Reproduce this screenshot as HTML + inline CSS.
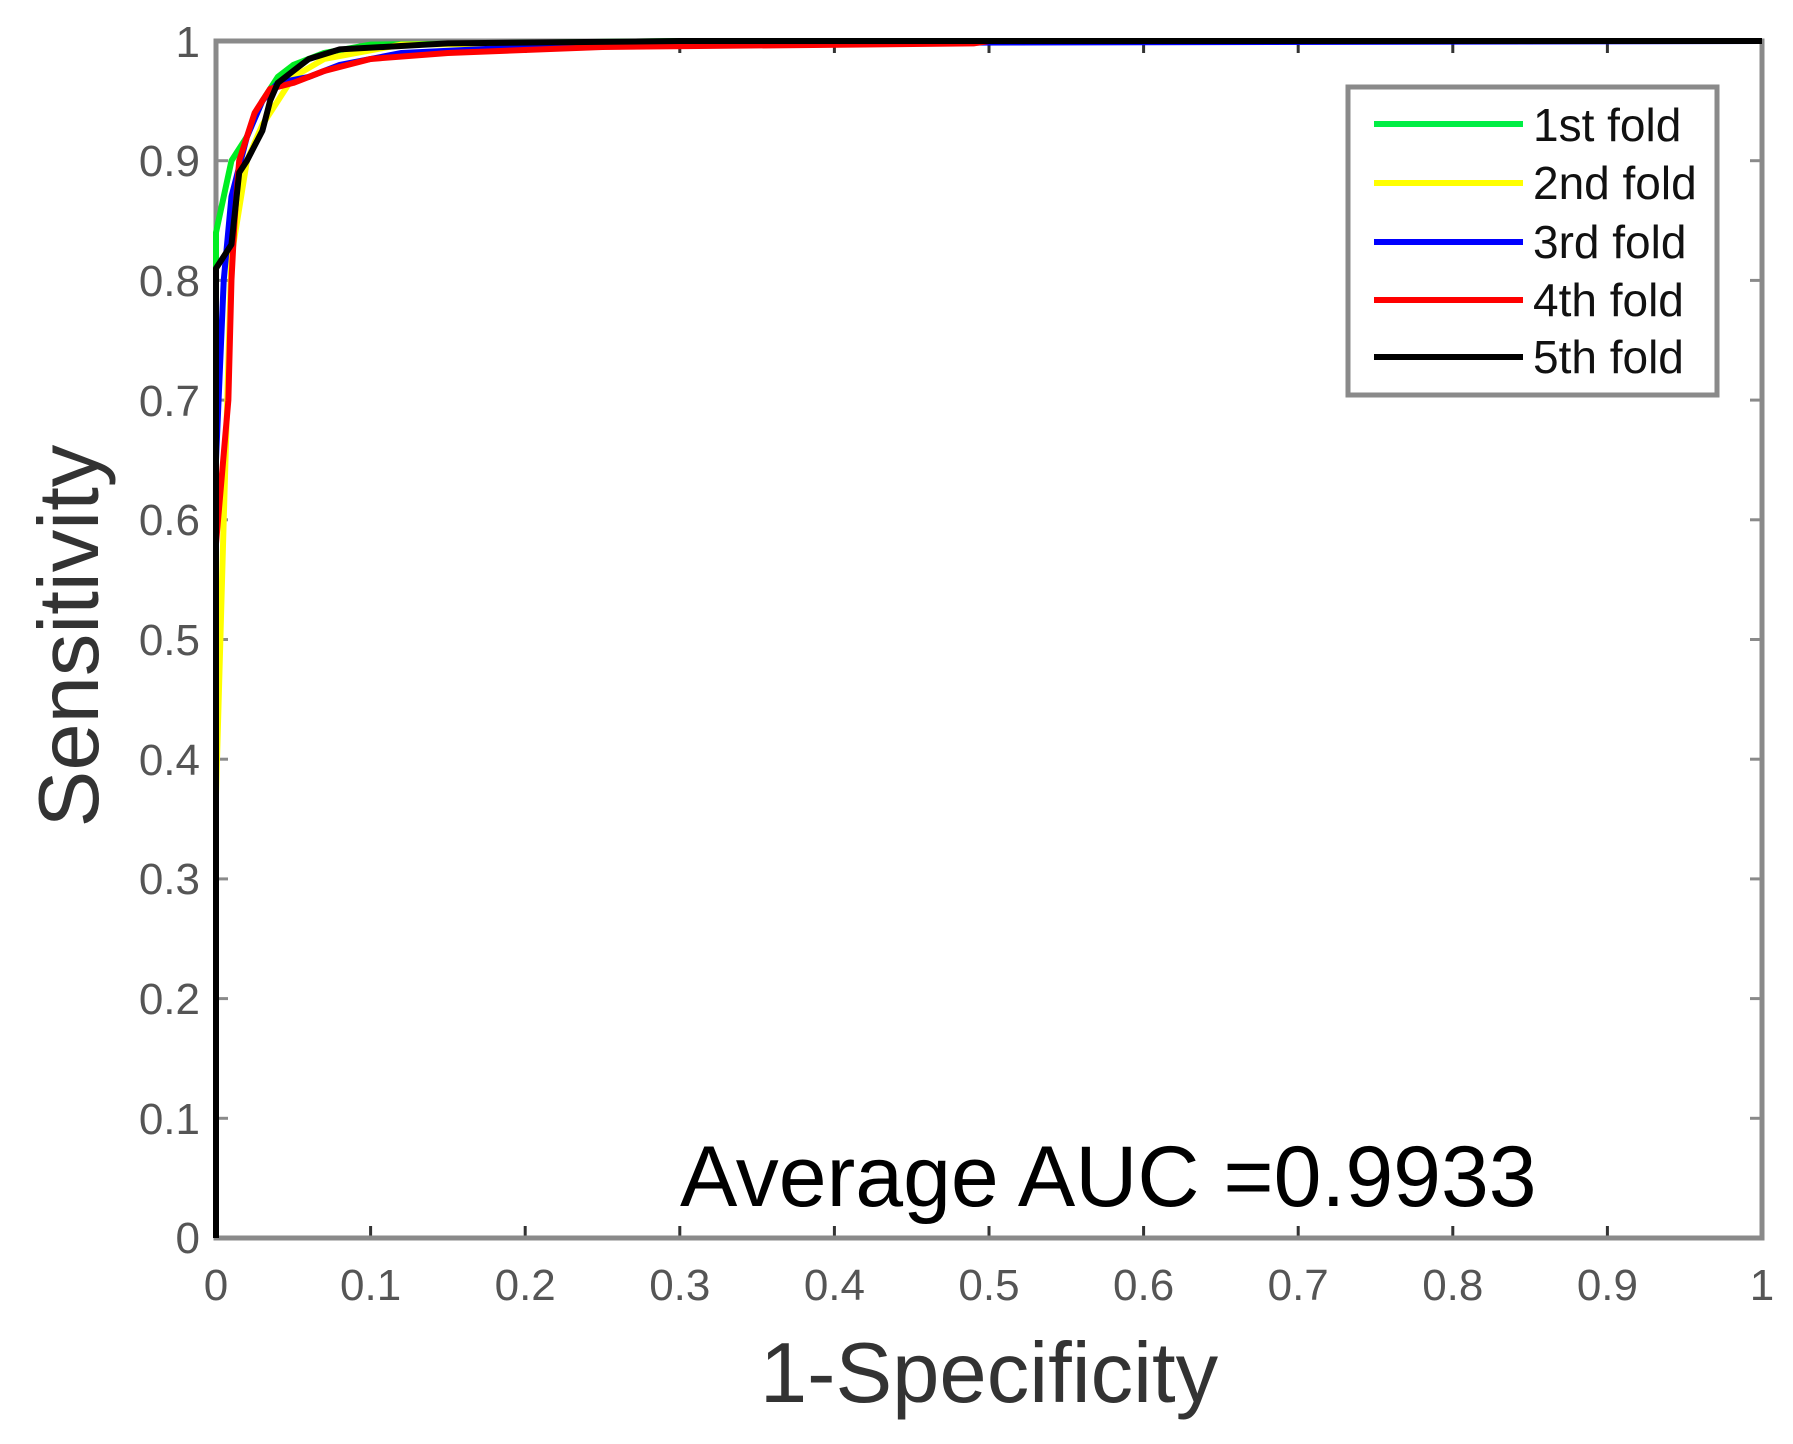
<!DOCTYPE html>
<html><head><meta charset="utf-8"><style>
html,body{margin:0;padding:0;background:#fff;}
svg{display:block;}
text{font-family:"Liberation Sans",Arial,sans-serif;}
</style></head><body>
<svg width="1793" height="1444" viewBox="0 0 1793 1444" xmlns="http://www.w3.org/2000/svg">
<rect width="1793" height="1444" fill="#fff"/>
<g stroke="#8a8a8a" stroke-width="3">
<line x1="216" y1="160.7" x2="228" y2="160.7"/><line x1="1762" y1="160.7" x2="1750" y2="160.7"/>
<line x1="216" y1="280.4" x2="228" y2="280.4"/><line x1="1762" y1="280.4" x2="1750" y2="280.4"/>
<line x1="216" y1="400.1" x2="228" y2="400.1"/><line x1="1762" y1="400.1" x2="1750" y2="400.1"/>
<line x1="216" y1="519.8" x2="228" y2="519.8"/><line x1="1762" y1="519.8" x2="1750" y2="519.8"/>
<line x1="216" y1="639.5" x2="228" y2="639.5"/><line x1="1762" y1="639.5" x2="1750" y2="639.5"/>
<line x1="216" y1="759.2" x2="228" y2="759.2"/><line x1="1762" y1="759.2" x2="1750" y2="759.2"/>
<line x1="216" y1="878.9" x2="228" y2="878.9"/><line x1="1762" y1="878.9" x2="1750" y2="878.9"/>
<line x1="216" y1="998.6" x2="228" y2="998.6"/><line x1="1762" y1="998.6" x2="1750" y2="998.6"/>
<line x1="216" y1="1118.3" x2="228" y2="1118.3"/><line x1="1762" y1="1118.3" x2="1750" y2="1118.3"/>
</g>
<g stroke="#333" stroke-width="3">
<line x1="370.6" y1="1238" x2="370.6" y2="1226"/><line x1="525.2" y1="1238" x2="525.2" y2="1226"/>
<line x1="679.8" y1="1238" x2="679.8" y2="1226"/><line x1="834.4" y1="1238" x2="834.4" y2="1226"/>
<line x1="989" y1="1238" x2="989" y2="1226"/><line x1="1143.6" y1="1238" x2="1143.6" y2="1226"/>
<line x1="1298.2" y1="1238" x2="1298.2" y2="1226"/><line x1="1452.8" y1="1238" x2="1452.8" y2="1226"/>
<line x1="1607.4" y1="1238" x2="1607.4" y2="1226"/>
<line x1="370.6" y1="41" x2="370.6" y2="53"/><line x1="525.2" y1="41" x2="525.2" y2="53"/>
<line x1="679.8" y1="41" x2="679.8" y2="53"/><line x1="834.4" y1="41" x2="834.4" y2="53"/>
<line x1="989" y1="41" x2="989" y2="53"/><line x1="1143.6" y1="41" x2="1143.6" y2="53"/>
<line x1="1298.2" y1="41" x2="1298.2" y2="53"/><line x1="1452.8" y1="41" x2="1452.8" y2="53"/>
<line x1="1607.4" y1="41" x2="1607.4" y2="53"/>
</g>
<rect x="216" y="41" width="1546" height="1197" fill="none" stroke="#8a8a8a" stroke-width="5"/>
<g transform="translate(216,1238) scale(1546,-1197)" fill="none" stroke-width="6" stroke-linejoin="round">
<polyline vector-effect="non-scaling-stroke" stroke="#00ee22" points="0,0 0,0.84 0.005,0.87 0.01,0.9 0.02,0.92 0.03,0.95 0.04,0.97 0.05,0.98 0.07,0.99 0.1,0.997 0.3,1 1,1"/>
<polyline vector-effect="non-scaling-stroke" stroke="#ffff00" points="0,0 0,0.37 0.005,0.6 0.01,0.82 0.015,0.86 0.02,0.9 0.03,0.93 0.04,0.95 0.05,0.97 0.07,0.985 0.12,0.997 0.42,1"/>
<polyline vector-effect="non-scaling-stroke" stroke="#0000ff" points="0,0 0,0.65 0.005,0.8 0.01,0.87 0.02,0.92 0.03,0.95 0.04,0.965 0.06,0.97 0.08,0.98 0.12,0.99 0.25,0.998 1,1"/>
<polyline vector-effect="non-scaling-stroke" stroke="#ff0000" points="0,0 0,0.58 0.008,0.7 0.01,0.8 0.012,0.85 0.015,0.9 0.02,0.92 0.025,0.94 0.035,0.96 0.05,0.965 0.07,0.975 0.1,0.985 0.15,0.99 0.25,0.995 0.49,0.998 0.5,1 1,1"/>
<polyline vector-effect="non-scaling-stroke" stroke="#000000" points="0,0 0,0.81 0.01,0.83 0.015,0.89 0.02,0.9 0.03,0.925 0.035,0.95 0.04,0.965 0.05,0.975 0.06,0.985 0.08,0.993 0.15,0.998 0.3,1 1,1"/>
</g>
<line x1="216" y1="1238" x2="216" y2="700" stroke="#000" stroke-width="5"/>
<g font-size="44" fill="#555" text-anchor="end">
<text x="200" y="57">1</text><text x="200" y="176">0.9</text><text x="200" y="296">0.8</text>
<text x="200" y="416">0.7</text><text x="200" y="535">0.6</text><text x="200" y="655">0.5</text>
<text x="200" y="775">0.4</text><text x="200" y="894">0.3</text><text x="200" y="1014">0.2</text>
<text x="200" y="1134">0.1</text><text x="200" y="1253">0</text>
</g>
<g font-size="44" fill="#555" text-anchor="middle">
<text x="216" y="1300">0</text><text x="370.6" y="1300">0.1</text><text x="525.2" y="1300">0.2</text>
<text x="679.8" y="1300">0.3</text><text x="834.4" y="1300">0.4</text><text x="989" y="1300">0.5</text>
<text x="1143.6" y="1300">0.6</text><text x="1298.2" y="1300">0.7</text><text x="1452.8" y="1300">0.8</text>
<text x="1607.4" y="1300">0.9</text><text x="1762" y="1300">1</text>
</g>
<text x="989" y="1402" font-size="85" fill="#333" text-anchor="middle">1-Specificity</text>
<text transform="translate(98,636) rotate(-90)" font-size="85" fill="#333" text-anchor="middle">Sensitivity</text>
<text x="680" y="1206" font-size="86" fill="#000">Average AUC =0.9933</text>
<rect x="1348" y="87" width="369" height="308" fill="#fff" stroke="#8a8a8a" stroke-width="5"/>
<g stroke-width="6">
<line x1="1374" y1="124" x2="1523" y2="124" stroke="#00ee44"/>
<line x1="1374" y1="183" x2="1523" y2="183" stroke="#ffff00"/>
<line x1="1374" y1="242" x2="1523" y2="242" stroke="#0000ff"/>
<line x1="1374" y1="300" x2="1523" y2="300" stroke="#ff0000"/>
<line x1="1374" y1="357" x2="1523" y2="357" stroke="#000000"/>
</g>
<g font-size="46" fill="#111">
<text x="1533" y="141">1st fold</text>
<text x="1533" y="199">2nd fold</text>
<text x="1533" y="258">3rd fold</text>
<text x="1533" y="316">4th fold</text>
<text x="1533" y="373">5th fold</text>
</g>
</svg>
</body></html>
